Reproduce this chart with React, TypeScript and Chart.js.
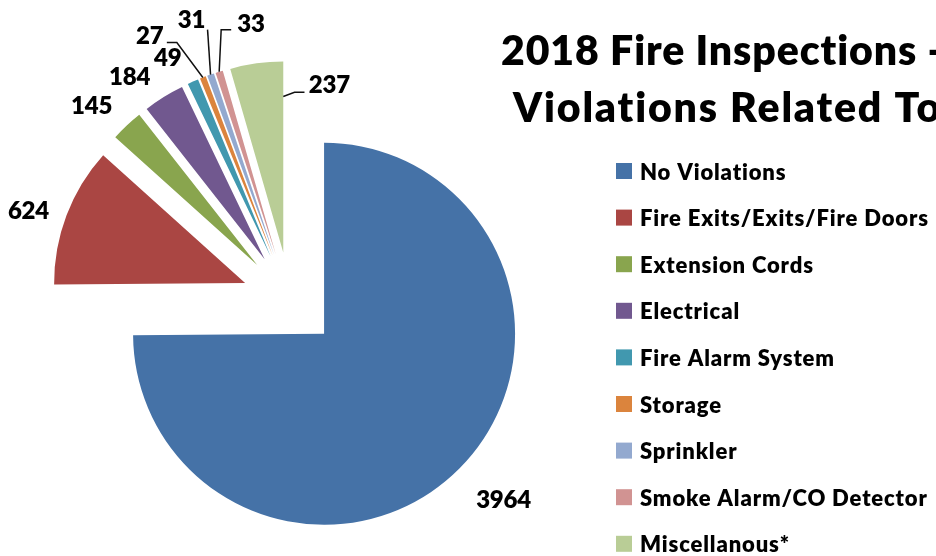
import React, { useEffect, useRef } from 'react';
import { Chart, registerables } from 'chart.js';

Chart.register(...registerables);

// ---------- data ----------
const CATEGORIES = [
  'No Violations',
  'Fire Exits/Exits/Fire Doors',
  'Extension Cords',
  'Electrical',
  'Fire Alarm System',
  'Storage',
  'Sprinkler',
  'Smoke Alarm/CO Detector',
  'Miscellanous*',
];
const VALUES = [3964, 624, 145, 184, 49, 27, 31, 33, 237];
const TITLE_LINES = ['2018 Fire Inspections -', 'Violations Related To'];

// ---------- styles / layout ----------
const COLORS = ['#4572A7', '#AA4643', '#89A54E', '#71588F', '#4198AF', '#DB843D', '#93A9CF', '#D19392', '#B9CD96'];
const W = 936;
const H = 556;
const RADIUS = 191;
const EXPLODE = 48;
const FONT = 'Lato, "Open Sans", "DejaVu Sans", sans-serif';
const WEIGHT = '800';

// label centre offsets from each slice's outer mid point
const LABEL_OFFSETS: [number, number][] = [
  [44, 31], [-38, -5], [-35, -20], [-34, -21], [-25, -24],
  [-53, -42], [-19, -55], [32, -48], [73, 21],
];
type Leader = { start: [number, number]; elbow: [number, number] | null; t: number; r: number } | null;
const LEADERS: Leader[] = [
  null, null, null, null, null,
  { start: [17, 7], elbow: [27, 7], t: 0.5, r: 1 },
  { start: [16, 10], elbow: null, t: 0.5, r: 1 },
  { start: [-20, 6], elbow: [-30, 6], t: 0.5, r: 1 },
  { start: [-25, 8], elbow: [-35, 8], t: 1, r: 0.817 },
];

// letter spacing so that a sample text spans the wanted width
function fitSpacing(ctx: any, text: string, target: number): number {
  ctx.letterSpacing = '0px';
  const w = ctx.measureText(text).width;
  const n = Math.max(text.length - 1, 1);
  return (target - w) / n;
}

const explodePlugin = {
  id: 'explodeSlices',
  afterDatasetsUpdate(chart: any) {
    const meta = chart.getDatasetMeta(0);
    meta.data.forEach((arc: any) => {
      const mid = (arc.startAngle + arc.endAngle) / 2;
      arc.x += Math.cos(mid) * EXPLODE;
      arc.y += Math.sin(mid) * EXPLODE;
    });
  },
};

const annotatePlugin = {
  id: 'annotations',
  afterDraw(chart: any) {
    const ctx = chart.ctx as any;
    const meta = chart.getDatasetMeta(0);
    const labels: string[] = chart.data.labels;
    const data: number[] = chart.data.datasets[0].data;
    const colors: string[] = chart.data.datasets[0].backgroundColor;
    ctx.save();
    ctx.fontVariantLigatures = 'none';

    // title
    ctx.fillStyle = '#000';
    ctx.font = `${WEIGHT} 41px ${FONT}`;
    ctx.textAlign = 'left';
    ctx.textBaseline = 'alphabetic';
    let ls = fitSpacing(ctx, '2018 Fire Inspections', 416);
    ctx.letterSpacing = `${ls}px`;
    ctx.fillText(TITLE_LINES[0], 501, 65);
    ls = fitSpacing(ctx, TITLE_LINES[1], 428);
    ctx.letterSpacing = `${ls}px`;
    ctx.fillText(TITLE_LINES[1], 513, 122);

    // legend
    ctx.font = `${WEIGHT} 22px ${FONT}`;
    ls = fitSpacing(ctx, 'Fire Exits/Exits/Fire Doors', 288);
    ctx.letterSpacing = `${ls}px`;
    labels.forEach((lab, i) => {
      const base = 179.5 + 46.6 * i;
      ctx.fillStyle = colors[i];
      ctx.fillRect(616, base - 16.5, 16, 16);
      ctx.fillStyle = '#000';
      ctx.fillText(lab, 640, base);
    });

    // data labels
    const fs = 24;
    ctx.font = `${WEIGHT} ${fs}px ${FONT}`;
    ls = fitSpacing(ctx, '3964', 55);
    ctx.letterSpacing = `${ls}px`;
    ctx.textAlign = 'left';
    meta.data.forEach((arc: any, i: number) => {
      const mid = (arc.startAngle + arc.endAngle) / 2;
      const ox = arc.x + Math.cos(mid) * arc.outerRadius;
      const oy = arc.y + Math.sin(mid) * arc.outerRadius;
      const cx = ox + LABEL_OFFSETS[i][0];
      const cy = oy + LABEL_OFFSETS[i][1];
      const txt = String(data[i]);
      const tw = ctx.measureText(txt).width - ls;
      ctx.fillStyle = '#000';
      ctx.fillText(txt, cx - tw / 2, cy + fs * 0.36);
      const ld = LEADERS[i];
      if (ld) {
        const a = arc.startAngle + (arc.endAngle - arc.startAngle) * ld.t;
        const tx = arc.x + Math.cos(a) * arc.outerRadius * ld.r;
        const ty = arc.y + Math.sin(a) * arc.outerRadius * ld.r;
        ctx.beginPath();
        ctx.strokeStyle = '#111';
        ctx.lineWidth = 1.5;
        ctx.moveTo(cx + ld.start[0], cy + ld.start[1]);
        if (ld.elbow) ctx.lineTo(cx + ld.elbow[0], cy + ld.elbow[1]);
        ctx.lineTo(tx, ty);
        ctx.stroke();
      }
    });
    ctx.restore();
  },
};

export default function App() {
  const ref = useRef<HTMLCanvasElement | null>(null);
  useEffect(() => {
    if (!ref.current) return;
    const chart = new Chart(ref.current, {
      type: 'pie',
      data: {
        labels: CATEGORIES,
        datasets: [
          {
            data: VALUES,
            backgroundColor: COLORS,
            borderWidth: 0,
          },
        ],
      },
      options: {
        responsive: false,
        animation: false,
        radius: RADIUS,
        layout: { padding: { left: 0, top: 44, right: 356, bottom: 0 } },
        plugins: {
          legend: { display: false },
          title: { display: false },
          tooltip: { enabled: false },
        },
      } as any,
      plugins: [explodePlugin, annotatePlugin],
    });
    return () => chart.destroy();
  }, []);
  return (
    <div style={{ position: 'fixed', left: 0, top: 0, width: W, height: H, overflow: 'hidden', background: '#fff' }}>
      <canvas ref={ref} width={W} height={H} style={{ display: 'block', width: W, height: H }} />
    </div>
  );
}
